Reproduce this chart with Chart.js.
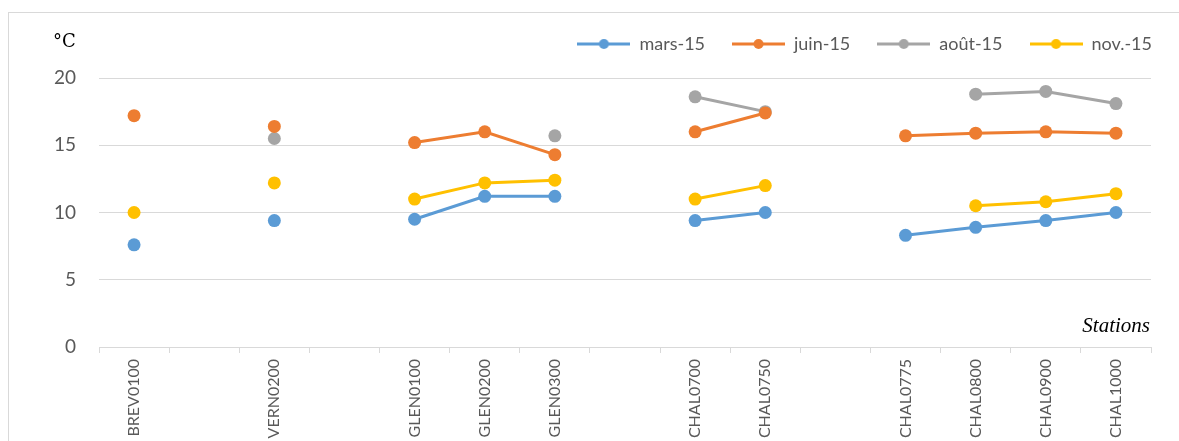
<!DOCTYPE html>
<html>
<head>
<meta charset="utf-8">
<script src="https://cdn.jsdelivr.net/npm/chart.js@4"></script>
<style>
  html, body { margin: 0; padding: 0; background: #fff; }
  #wrap { position: relative; width: 1179px; height: 441px; }
</style>
</head>
<body>
<div id="wrap"><canvas id="chart"></canvas></div>
<script>
// stations (blank slots keep the gaps between the rivers)
const stations = ['BREV0100', '', 'VERN0200', '', 'GLEN0100', 'GLEN0200', 'GLEN0300', '',
  'CHAL0700', 'CHAL0750', '', 'CHAL0775', 'CHAL0800', 'CHAL0900', 'CHAL1000'];

const mars15 = [7.6, null, 9.4, null, 9.5, 11.2, 11.2, null, 9.4, 10.0, null, 8.3, 8.9, 9.4, 10.0];
const juin15 = [17.2, null, 16.4, null, 15.2, 16.0, 14.3, null, 16.0, 17.4, null, 15.7, 15.9, 16.0, 15.9];
const aout15 = [null, null, 15.5, null, null, null, 15.7, null, 18.6, 17.5, null, null, 18.8, 19.0, 18.1];
const nov15 = [10.0, null, 12.2, null, 11.0, 12.2, 12.4, null, 11.0, 12.0, null, null, 10.5, 10.8, 11.4];

const yTicks = [0, 5, 10, 15, 20];

const colors = ['#5B9BD5', '#ED7D31', '#A5A5A5', '#FFC000'];
const names = ['mars-15', 'juin-15', 'août-15', 'nov.-15'];
const series = [mars15, juin15, aout15, nov15];

// legend symbol: a line with a dot in the middle
function legendMark(color) {
  const c = document.createElement('canvas');
  c.width = 53; c.height = 12;
  const g = c.getContext('2d');
  g.strokeStyle = color;
  g.lineWidth = 3;
  g.beginPath(); g.moveTo(0, 6); g.lineTo(53, 6); g.stroke();
  g.fillStyle = color;
  g.beginPath(); g.arc(26.5, 6, 5, 0, Math.PI * 2); g.fill();
  return c;
}

const extras = {
  id: 'extras',
  beforeDraw(chart) {
    const ctx = chart.ctx;
    ctx.save();
    ctx.strokeStyle = '#D9D9D9';
    ctx.lineWidth = 1;
    ctx.strokeRect(8.5, 12.5, 1300, 600);
    ctx.restore();
  },
  afterDraw(chart) {
    const ctx = chart.ctx;
    const x = chart.scales.x, y = chart.scales.y;
    ctx.save();
    ctx.fillStyle = '#000';
    ctx.font = '18px "DejaVu Serif"';
    ctx.textAlign = 'left';
    ctx.textBaseline = 'alphabetic';
    ctx.fillText('°C', 53, 47);
    ctx.font = 'italic 21px "Liberation Serif"';
    ctx.textAlign = 'right';
    ctx.fillText('Stations', x.right - 1, y.bottom - 15);
    ctx.restore();
  }
};

new Chart(document.getElementById('chart'), {
  type: 'line',
  data: {
    labels: stations,
    datasets: series.map((d, i) => ({
      label: names[i],
      data: d,
      borderColor: colors[i],
      backgroundColor: colors[i],
      borderWidth: 3,
      pointStyle: 'circle',
      pointRadius: 6.5,
      pointHoverRadius: 6.5,
      pointBorderWidth: 0,
      spanGaps: false,
      tension: 0
    }))
  },
  options: {
    responsive: true,
    maintainAspectRatio: false,
    animation: false,
    events: [],
    layout: { padding: { top: 8, right: 0, bottom: 0, left: 0 } },
    plugins: {
      tooltip: { enabled: false },
      legend: {
        position: 'top',
        align: 'end',
        labels: {
          usePointStyle: true,
          pointStyleWidth: 53,
          padding: 27,
          color: '#595959',
          font: { family: 'Lato', size: 18 },
          generateLabels(chart) {
            return chart.data.datasets.map((ds, i) => ({
              text: ds.label,
              pointStyle: legendMark(colors[i]),
              fillStyle: colors[i],
              strokeStyle: colors[i],
              lineWidth: 0,
              fontColor: '#595959',
              datasetIndex: i,
              hidden: false
            }));
          }
        }
      }
    },
    scales: {
      x: {
        offset: true,
        afterFit(s) { s.height = 94; },
        grid: {
          offset: true,
          drawOnChartArea: false,
          drawTicks: true,
          tickLength: 6,
          color: '#D9D9D9'
        },
        border: { color: '#D9D9D9', width: 1 },
        ticks: {
          autoSkip: false,
          minRotation: 90,
          maxRotation: 90,
          padding: 6,
          color: '#595959',
          font: { family: 'Lato', size: 16 }
        }
      },
      // spacer above the plot, under the legend
      topSpace: {
        type: 'category',
        position: 'top',
        afterFit(s) { s.height = 15; },
        grid: { display: false },
        border: { display: false },
        ticks: { display: false }
      },
      y: {
        min: 0,
        max: 20,
        afterFit(s) { s.width = 99; },
        afterBuildTicks(s) { s.ticks = yTicks.map(v => ({ value: v })); },
        grid: { color: '#D9D9D9', drawTicks: false },
        border: { display: false },
        ticks: {
          padding: 23,
          color: '#595959',
          font: { family: 'Lato', size: 19 }
        }
      },
      // spacer right of the plot
      rightSpace: {
        type: 'linear',
        position: 'right',
        afterFit(s) { s.width = 28; },
        grid: { display: false },
        border: { display: false },
        ticks: { display: false }
      }
    }
  },
  plugins: [extras]
});
</script>
</body>
</html>
